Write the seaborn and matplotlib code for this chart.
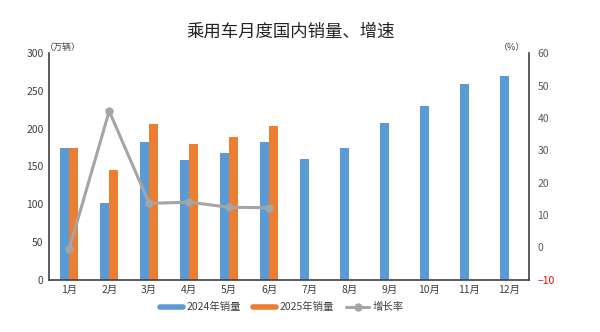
import numpy as np
import pandas as pd
import matplotlib
matplotlib.use("Agg")
import matplotlib.pyplot as plt
import seaborn as sns
from matplotlib.lines import Line2D

months = ["1月", "2月", "3月", "4月", "5月", "6月", "7月", "8月", "9月", "10月", "11月", "12月"]
sales_2024 = [175, 102, 182, 158, 168, 182, 160, 175, 207, 230, 259, 270]
sales_2025 = [174, 145, 206, 180, 189, 204]
growth = [-0.5, 42.1, 13.6, 14.0, 12.4, 12.3]
left_ticks = [0, 50, 100, 150, 200, 250, 300]
right_ticks = [-10, 0, 10, 20, 30, 40, 50, 60]

sns.set_style("white")
plt.rcParams['font.family'] = ['Noto Sans CJK SC', 'DejaVu Sans']

blue = "#5B9BD5"
orange = "#ED7D31"
gray = "#A5A5A5"

rows = []
for m, v in zip(months, sales_2024):
    rows.append({"月份": m, "系列": "2024年销量", "销量": v})
for i, m in enumerate(months):
    v = sales_2025[i] if i < len(sales_2025) else np.nan
    rows.append({"月份": m, "系列": "2025年销量", "销量": v})
df = pd.DataFrame(rows)

gdf = pd.DataFrame({"pos": np.arange(len(growth)), "增长率": growth})

fig = plt.figure(figsize=(6, 3.32), dpi=100)
ax = fig.add_axes([0.082, 0.157, 0.8, 0.683])
sns.barplot(data=df, x="月份", y="销量", hue="系列", order=months,
            palette=[blue, orange], width=0.46, ax=ax, legend=False,
            saturation=1, linewidth=0)
ax.set_ylim(0, 300)
ax.set_xlim(-0.5, 11.5)
ax.set_yticks(left_ticks)
ax.set_xlabel("")
ax.set_ylabel("")
ax.tick_params(axis="both", labelsize=7.5, colors="#404040", length=0, pad=4)
for s in ["top", "right"]:
    ax.spines[s].set_visible(False)
for s in ["left", "bottom"]:
    ax.spines[s].set_color("#404040")
    ax.spines[s].set_linewidth(1.2)

ax2 = ax.twinx()
sns.lineplot(data=gdf, x="pos", y="增长率", ax=ax2, color=gray, linewidth=2.2,
             marker="o", markersize=6, markeredgewidth=0)
ax2.set_ylim(-10, 60)
ax2.set_yticks(right_ticks)
ax2.set_ylabel("")
ax2.set_xlabel("")
ax2.tick_params(axis="y", labelsize=7.5, colors="#595959", length=0, pad=6)
for s in ["top", "left", "bottom"]:
    ax2.spines[s].set_visible(False)
ax2.spines["right"].set_color("#404040")
ax2.spines["right"].set_linewidth(1.2)
for lbl, t in zip(ax2.get_yticklabels(), right_ticks):
    if t < 0:
        lbl.set_color("#FF0000")
ax.set_xlim(-0.5, 11.5)

fig.text(0.485, 0.905, "乘用车月度国内销量、增速", ha="center", va="center", fontsize=12.5, color="#222222")
fig.text(0.075, 0.858, "（万辆）", ha="left", va="center", fontsize=6.5, color="#404040")
fig.text(0.875, 0.858, "（%）", ha="right", va="center", fontsize=6.5, color="#404040")

handles = [
    Line2D([], [], color=blue, linewidth=4),
    Line2D([], [], color=orange, linewidth=4),
    Line2D([], [], color=gray, linewidth=2.2, marker="o", markersize=5),
]
fig.legend(handles, ["2024年销量", "2025年销量", "增长率"], loc="center",
           bbox_to_anchor=(0.47, 0.075), ncol=3, frameon=False, fontsize=7.5,
           handlelength=2.2, handletextpad=0.3, columnspacing=1.2, labelcolor="#404040")

fig.savefig("out.png", dpi=100)
